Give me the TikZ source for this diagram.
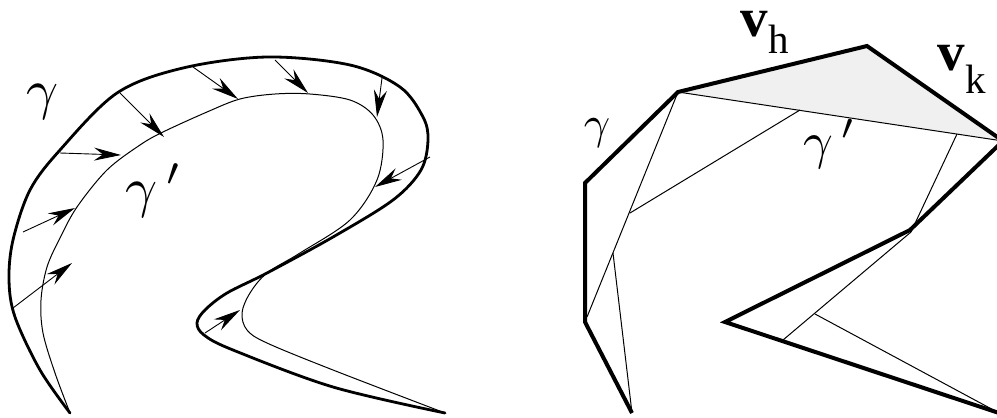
\documentclass[tikz,border=0pt]{standalone}
\usepackage{fontspec}
\setmainfont{Liberation Serif}
\usetikzlibrary{arrows.meta}
\tikzset{
  thickcurve/.style={line width=2.8pt, line join=round, line cap=round},
  thincurve/.style={line width=1pt, line join=round},
  thickpoly/.style={line width=4pt, line join=miter, miter limit=6},
  thinpoly/.style={line width=1pt},
  movearrow/.style={line width=0.9pt, -{Stealth[length=27pt, width=13pt, inset=9pt]}},
  lbl/.style={inner sep=0pt, anchor=base},
  vlbl/.style={inner sep=0pt, anchor=base, text height=0.5em}
}
\newcommand{\gprime}{\gamma\mkern3mu{}'}
\begin{document}
\begin{tikzpicture}[x=1pt, y=-1pt]
\useasboundingbox (0,0) rectangle (997,418);
\clip (0,0) rectangle (997,418);
% ---------- left figure ----------
\draw[thickcurve] plot[smooth, tension=0.55] coordinates {
 (70,413) (40,370) (15,317) (9,280) (13,240) (30,190) (60,150) (117,93) (183,68)
 (267,57) (350,65) (400,87) (423,117) (428,140) (421,170) (393,200) (333,237)
 (267,273) (227,293) (205,310) (197,323) (204,335) (233,350) (333,387) (445,413)};
\draw[thincurve] plot[smooth, tension=0.55] coordinates {
 (70,413) (55,373) (43,333) (41,300) (47,267) (60,238) (77,207) (107,170) (140,145)
 (163,132) (207,112) (240,99) (275,94) (310,94) (350,100) (373,115) (383,140)
 (377,180) (350,220) (300,253) (267,273) (250,293) (242,313) (247,330) (267,343)
 (333,370) (445,413)};
\draw[movearrow] (13,308) -- (72,263);
\draw[movearrow] (23,232) -- (75,208);
\draw[movearrow] (60,153) -- (121,155);
\draw[movearrow] (120,93) -- (164,137);
\draw[movearrow] (193,67) -- (238,99);
\draw[movearrow] (275,60) -- (308,93);
\draw[movearrow] (382,78) -- (377,117);
\draw[movearrow] (430,157) -- (375,187);
\draw[movearrow] (205,333) -- (240,310);
\node[lbl] (g1) at (43,108) {\scalebox{5.6}{$\gamma$}};
\node[lbl] (g1p) at (154,206) {\scalebox{5.6}{$\gprime$}};
% ---------- right figure ----------
\coordinate (A) at (632,413);
\coordinate (B) at (585,322);
\coordinate (C) at (585,183);
\coordinate (D) at (678,92);
\coordinate (E) at (867,46);
\coordinate (F) at (1003,141);
\coordinate (G) at (910,230);
\coordinate (H) at (725,322);
\coordinate (I) at (999,413);
\coordinate (P) at (587,317);
\coordinate (Q) at (613,253);
\coordinate (R) at (800,110);
\coordinate (S) at (630,213);
\coordinate (T) at (957,134);
\coordinate (U) at (911,232);
\coordinate (V) at (783,340);
\coordinate (W) at (815,314);
\fill[gray!12] (D) -- (E) -- (F) -- cycle;
\draw[thinpoly] (D) -- (F);
\draw[thinpoly] (D) -- (P);
\draw[thinpoly] (Q) -- (A);
\draw[thinpoly] (R) -- (S);
\draw[thinpoly] (T) -- (U) -- (V);
\draw[thinpoly] (W) -- (I);
\draw[thickpoly] (A) -- (B) -- (C) -- (D) -- (E) -- (F) -- (G) -- (H) -- (I);
\node[lbl] (g2) at (597,138) {\scalebox{4.6}{$\gamma$}};
\node[lbl] (g2p) at (830,158) {\scalebox{5.2}{$\gprime$}};
\node[vlbl, font=\fontsize{55}{57}\selectfont\bfseries] (vh) at (754,36) {v};
\node[lbl, font=\fontsize{41}{43}\selectfont] (h) at (779,53) {h};
\node[vlbl, font=\fontsize{55}{57}\selectfont\bfseries] (vk) at (951,70) {v};
\node[lbl, font=\fontsize{41}{43}\selectfont] (k) at (976,93) {k};
\end{tikzpicture}
\end{document}
